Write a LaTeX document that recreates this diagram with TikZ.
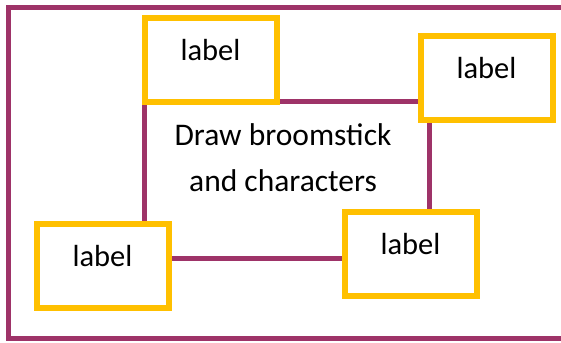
\documentclass[tikz,border=0pt]{standalone}
\usepackage{fontspec}
\setmainfont{Carlito}
\definecolor{frameP}{HTML}{9E3368}
\definecolor{gold}{HTML}{FFC000}
\begin{document}
\begin{tikzpicture}[x=1pt,y=-1pt,
  purpleline/.style={draw=frameP,line width=5pt},
  labelbox/.style={draw=gold,line width=6pt,fill=white,minimum width=132pt,minimum height=84pt,inner sep=0pt,
     font=\fontsize{30.5}{36}\selectfont,text height=20pt,text depth=19pt},
  maintext/.style={font=\fontsize{31.5}{46}\selectfont,align=center,inner sep=0pt}]
\clip (0,0) rectangle (561,342);
\fill[white] (0,0) rectangle (561,342);
% outer frame (extends beyond right edge)
\draw[purpleline] (8.5,8) rectangle (600,338.5);
% inner rectangle
\node[purpleline,rectangle,minimum width=284.5pt,minimum height=156.5pt,inner sep=0pt] (frame) at (286.75,179.75) {};
\node[maintext,anchor=base] (main) at (283,191) {Draw broomstick\\and characters};
% label boxes
\node[labelbox] (tl) at (210.5,60) {label};
\node[labelbox] (tr) at (486.5,78) {label};
\node[labelbox] (bl) at (102.5,266) {label};
\node[labelbox] (br) at (410.5,254) {label};
\end{tikzpicture}
\end{document}
